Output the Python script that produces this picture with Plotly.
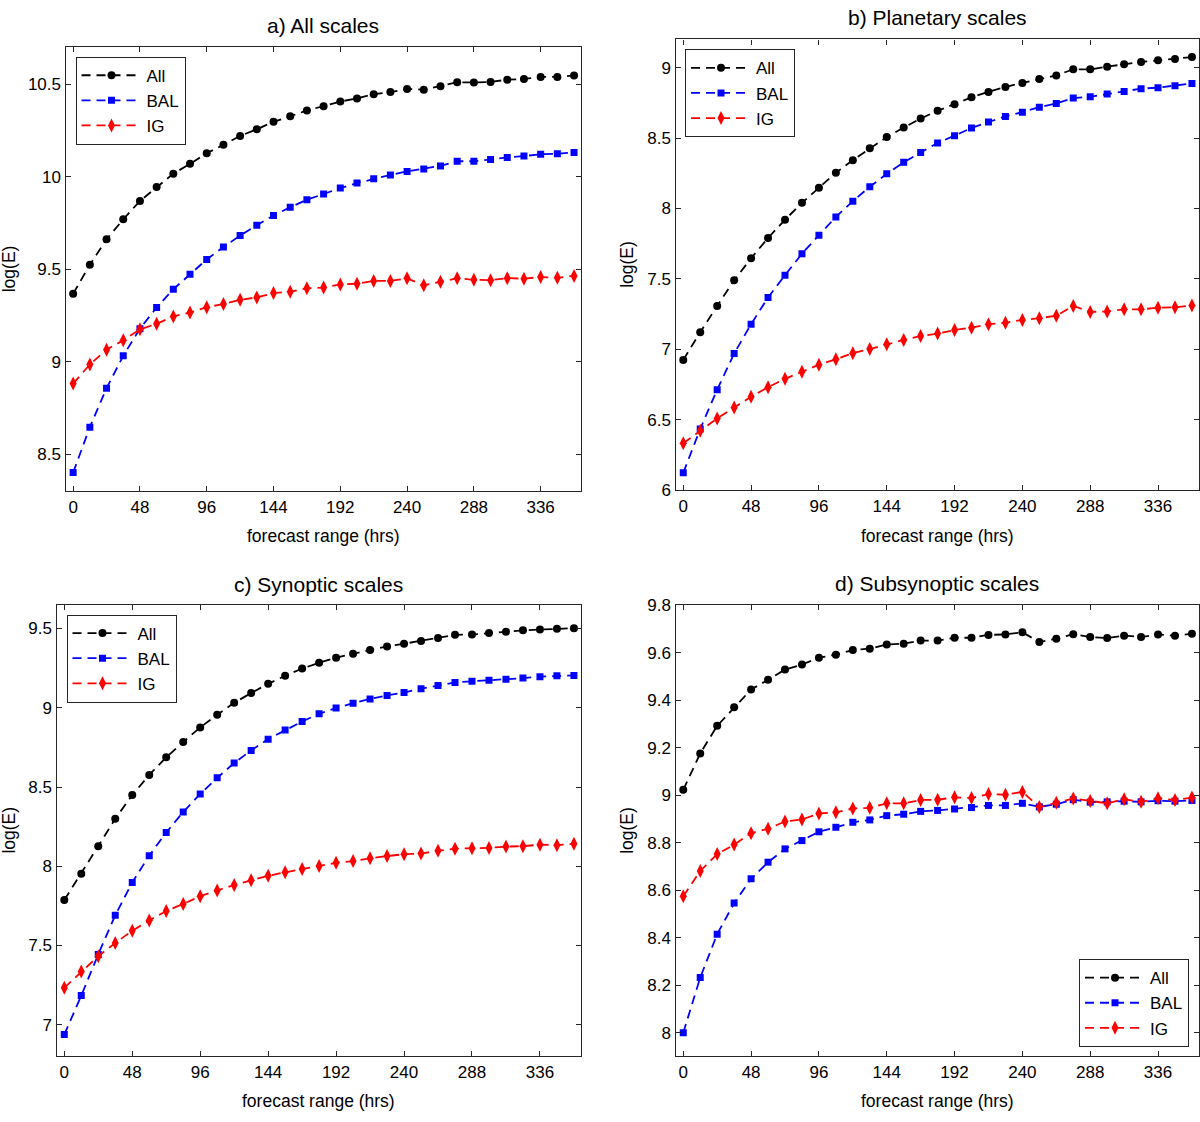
import plotly.graph_objects as go

hours = list(range(0, 361, 12))

# a) All scales
a_all = [9.367, 9.525, 9.662, 9.770, 9.869, 9.945, 10.017, 10.070, 10.127, 10.173, 10.221,
         10.257, 10.297, 10.327, 10.359, 10.382, 10.407, 10.424, 10.447, 10.458, 10.475,
         10.471, 10.489, 10.511, 10.510, 10.513, 10.525, 10.529, 10.540, 10.540, 10.548]
a_bal = [8.401, 8.646, 8.857, 9.032, 9.179, 9.293, 9.392, 9.473, 9.553, 9.620, 9.682,
         9.738, 9.791, 9.835, 9.876, 9.907, 9.939, 9.966, 9.990, 10.010, 10.029,
         10.042, 10.059, 10.084, 10.084, 10.093, 10.105, 10.112, 10.122, 10.125, 10.131]
a_ig = [8.882, 8.985, 9.065, 9.116, 9.175, 9.205, 9.245, 9.266, 9.295, 9.312, 9.335,
        9.348, 9.371, 9.378, 9.397, 9.401, 9.418, 9.422, 9.437, 9.437, 9.451,
        9.414, 9.432, 9.452, 9.443, 9.441, 9.452, 9.449, 9.458, 9.454, 9.464]

# b) Planetary scales
b_all = [6.925, 7.122, 7.308, 7.490, 7.647, 7.791, 7.920, 8.040, 8.147, 8.254, 8.343,
         8.428, 8.507, 8.575, 8.639, 8.694, 8.741, 8.789, 8.828, 8.863, 8.891,
         8.920, 8.945, 8.988, 8.988, 9.007, 9.025, 9.040, 9.052, 9.062, 9.075]
b_bal = [6.124, 6.435, 6.714, 6.970, 7.179, 7.368, 7.527, 7.679, 7.811, 7.940, 8.052,
         8.154, 8.246, 8.328, 8.398, 8.465, 8.517, 8.572, 8.614, 8.654, 8.684,
         8.719, 8.746, 8.784, 8.793, 8.813, 8.831, 8.851, 8.858, 8.871, 8.888]
b_ig = [6.333, 6.423, 6.510, 6.587, 6.664, 6.731, 6.791, 6.841, 6.891, 6.930, 6.973,
        7.002, 7.037, 7.067, 7.095, 7.112, 7.137, 7.154, 7.179, 7.189, 7.209,
        7.221, 7.239, 7.308, 7.266, 7.269, 7.284, 7.284, 7.296, 7.299, 7.311]

# c) Synoptic scales
c_all = [7.787, 7.953, 8.127, 8.300, 8.449, 8.576, 8.687, 8.784, 8.876, 8.956, 9.031,
         9.093, 9.151, 9.202, 9.247, 9.284, 9.316, 9.340, 9.364, 9.387, 9.404,
         9.422, 9.440, 9.460, 9.462, 9.471, 9.480, 9.489, 9.493, 9.498, 9.502]
c_bal = [6.938, 7.184, 7.444, 7.691, 7.898, 8.067, 8.213, 8.342, 8.456, 8.558, 8.651,
         8.731, 8.802, 8.860, 8.913, 8.962, 8.998, 9.029, 9.056, 9.078, 9.096,
         9.120, 9.140, 9.160, 9.167, 9.173, 9.180, 9.187, 9.196, 9.202, 9.204]
c_ig = [7.233, 7.336, 7.433, 7.516, 7.593, 7.658, 7.718, 7.762, 7.811, 7.847, 7.882,
        7.911, 7.940, 7.962, 7.982, 8.002, 8.022, 8.033, 8.051, 8.064, 8.076,
        8.080, 8.098, 8.111, 8.113, 8.116, 8.124, 8.127, 8.136, 8.133, 8.142]

# d) Subsynoptic scales
d_all = [9.023, 9.176, 9.292, 9.370, 9.445, 9.486, 9.529, 9.550, 9.579, 9.592, 9.611,
         9.617, 9.635, 9.638, 9.651, 9.651, 9.663, 9.663, 9.675, 9.677, 9.686,
         9.645, 9.659, 9.678, 9.666, 9.662, 9.672, 9.666, 9.677, 9.671, 9.680]
d_bal = [8.000, 8.232, 8.415, 8.546, 8.648, 8.718, 8.774, 8.809, 8.846, 8.865, 8.886,
         8.896, 8.914, 8.920, 8.932, 8.936, 8.942, 8.948, 8.957, 8.957, 8.966,
         8.951, 8.962, 8.981, 8.971, 8.972, 8.975, 8.972, 8.977, 8.975, 8.978]
d_ig = [8.575, 8.681, 8.752, 8.792, 8.840, 8.859, 8.889, 8.898, 8.923, 8.928, 8.944,
        8.947, 8.966, 8.966, 8.980, 8.981, 8.991, 8.988, 9.005, 9.002, 9.014,
        8.950, 8.968, 8.986, 8.976, 8.966, 8.983, 8.972, 8.987, 8.980, 8.990]

titles = ["a) All scales", "b) Planetary scales", "c) Synoptic scales", "d) Subsynoptic scales"]
series_names = ["All", "BAL", "IG"]
panels = [(a_all, a_bal, a_ig), (b_all, b_bal, b_ig), (c_all, c_bal, c_ig), (d_all, d_bal, d_ig)]
x_ticks = [0, 48, 96, 144, 192, 240, 288, 336]

W, H = 1200, 1122
FONT = "Liberation Sans, Arial, Helvetica, sans-serif"

# plot boxes in pixels: left, right, top, bottom
boxes = [(65.5, 581, 39, 490.5), (675.5, 1199, 31, 489.5),
         (56.5, 581, 606, 1065.5), (675.5, 1199, 606.5, 1065.5)]
y_ranges = [[8.3, 10.7], [6.0, 9.2], [6.8, 9.65], [7.9, 9.8]]
y_dticks = [0.5, 0.5, 0.5, 0.2]
title_y = [17, 9, 585, 584]
xlabel_y = [536, 536, 1111, 1111]
legend_pos = [(75.5, 48.5, "left", "top"), (685, 41, "left", "top"),
              (66.5, 616, "left", "top"), (1189, 1056, "right", "bottom")]

styles = [dict(color="black", symbol="circle", size=8),
          dict(color="#0000ff", symbol="square", size=7),
          dict(color="#ff0000", symbol="diamond-tall", size=10)]

fig = go.Figure()
annotations = []

for i, vals in enumerate(panels):
    n = "" if i == 0 else str(i + 1)
    leg = "legend" + n
    for name, ys, st in zip(series_names, vals, styles):
        fig.add_trace(go.Scatter(
            x=hours, y=ys, name=name, mode="lines+markers",
            line=dict(color=st["color"], width=1.8, dash="9px,6px"),
            marker=dict(color=st["color"], symbol=st["symbol"], size=st["size"], line=dict(width=0)),
            xaxis="x" + n, yaxis="y" + n, legend=leg,
        ))

    l, r, t, b = boxes[i]
    axis_common = dict(showline=True, linecolor="#262626", linewidth=1.2, mirror="ticks",
                       ticks="inside", ticklen=5, tickcolor="#262626", showgrid=False,
                       zeroline=False, tickfont=dict(size=17, color="black", family=FONT))
    fig.layout["xaxis" + n] = dict(domain=[l / W, r / W], range=[-5.5, 365],
                                   tickvals=x_ticks, anchor="y" + n, **axis_common)
    fig.layout["yaxis" + n] = dict(domain=[1 - b / H, 1 - t / H], range=y_ranges[i],
                                   dtick=y_dticks[i], tick0=0, anchor="x" + n, **axis_common)

    lx, ly, xa, ya = legend_pos[i]
    fig.layout[leg] = dict(x=lx / W, y=1 - ly / H, xanchor=xa, yanchor=ya,
                           bgcolor="white", bordercolor="#262626", borderwidth=1,
                           itemwidth=60, tracegroupgap=0,
                           font=dict(size=17, color="black", family=FONT))

    cx = (l + r) / 2 / W
    annotations.append(dict(text=titles[i], x=cx, y=1 - title_y[i] / H, xref="paper", yref="paper",
                            xanchor="center", yanchor="middle", showarrow=False,
                            font=dict(size=21, color="black", family=FONT)))
    annotations.append(dict(text="forecast range (hrs)", x=cx, y=1 - xlabel_y[i] / H,
                            xref="paper", yref="paper", xanchor="center", yanchor="middle",
                            showarrow=False, font=dict(size=17.5, color="black", family=FONT)))
    ylab_x = 9 if i % 2 == 0 else 627
    annotations.append(dict(text="log(E)", x=ylab_x / W, y=1 - (t + b) / 2 / H,
                            xref="paper", yref="paper", xanchor="center", yanchor="middle",
                            showarrow=False, textangle=-90,
                            font=dict(size=17.5, color="black", family=FONT)))

fig.update_layout(width=W, height=H, margin=dict(l=0, r=0, t=0, b=0),
                  paper_bgcolor="white", plot_bgcolor="white",
                  annotations=annotations, font=dict(family=FONT, color="black"))

fig.write_html("out.html", config={"displayModeBar": False},
               post_script="document.body.style.margin='0';")
